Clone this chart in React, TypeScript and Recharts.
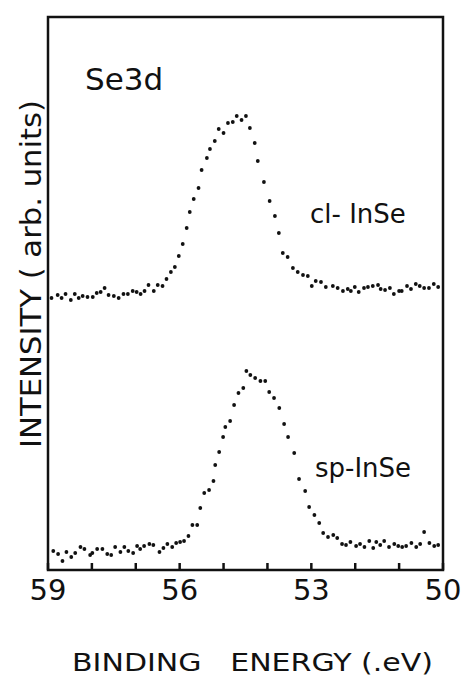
import { ScatterChart, Scatter, XAxis, YAxis, ReferenceArea } from 'recharts'

const font = '"DejaVu Sans", "Liberation Sans", sans-serif'

// binding energy (eV) and intensity (arb. units)
const clEnergy = [
  58.92, 58.78, 58.69, 58.6, 58.48, 58.39, 58.3, 58.21, 58.1, 57.98, 57.89, 57.8, 57.71, 57.62, 57.5,
  57.39, 57.28, 57.18, 57.07, 56.98, 56.89, 56.8, 56.71, 56.59, 56.5, 56.39, 56.3, 56.2, 56.11, 56.02,
  55.93, 55.84, 55.77, 55.68, 55.57, 55.5, 55.38, 55.31, 55.2, 55.11, 55.0, 54.9, 54.79, 54.7, 54.59,
  54.49, 54.4, 54.29, 54.22, 54.08, 53.95, 53.83, 53.74, 53.65, 53.54, 53.42, 53.31, 53.19, 53.08, 52.99,
  52.9, 52.78, 52.67, 52.51, 52.4, 52.28, 52.17, 52.1, 52.01, 51.92, 51.8, 51.71, 51.6, 51.48, 51.42,
  51.32, 51.21, 51.12, 51.0, 50.94, 50.82, 50.73, 50.62, 50.53, 50.43, 50.32, 50.21, 50.11,
]
const clIntensity = [
  272, 275, 272, 276, 270, 276, 272, 274, 273, 273, 277, 278, 282, 275, 274,
  272, 276, 276, 279, 278, 276, 279, 285, 279, 285, 284, 291, 298, 303, 314,
  326, 342, 358, 371, 382, 400, 412, 421, 429, 441, 437, 447, 448, 454, 450,
  454, 442, 427, 409, 388, 369, 354, 337, 317, 313, 302, 298, 295, 294, 284,
  289, 288, 283, 284, 282, 279, 281, 279, 283, 278, 282, 283, 284, 285, 281,
  280, 282, 276, 279, 279, 284, 281, 286, 284, 282, 282, 286, 283,
]

const spEnergy = [
  58.88, 58.77, 58.67, 58.58, 58.47, 58.38, 58.26, 58.17, 58.04, 57.99, 57.88, 57.76, 57.65, 57.56, 57.47,
  57.35, 57.26, 57.17, 57.06, 56.97, 56.9, 56.81, 56.69, 56.6, 56.46, 56.37, 56.28, 56.17, 56.08, 55.99,
  55.9, 55.8, 55.71, 55.6, 55.53, 55.44, 55.33, 55.23, 55.19, 55.1, 55.01, 54.96, 54.85, 54.76, 54.66,
  54.55, 54.48, 54.39, 54.28, 54.16, 54.05, 53.96, 53.85, 53.73, 53.62, 53.53, 53.39, 53.28, 53.14, 53.05,
  52.93, 52.82, 52.73, 52.62, 52.5, 52.41, 52.3, 52.21, 52.11, 51.98, 51.89, 51.79, 51.68, 51.59, 51.52,
  51.43, 51.34, 51.23, 51.11, 51.02, 50.93, 50.84, 50.72, 50.61, 50.52, 50.43, 50.31, 50.2, 50.11,
]
const spIntensity = [
  19, 16, 9, 18, 13, 17, 23, 21, 15, 17, 21, 21, 16, 15, 23,
  18, 23, 19, 17, 24, 21, 24, 26, 25, 18, 22, 26, 23, 27, 28,
  29, 34, 45, 45, 62, 77, 80, 89, 105, 118, 133, 143, 149, 165, 177,
  182, 199, 195, 192, 189, 189, 178, 172, 162, 146, 133, 117, 91, 79, 63,
  55, 47, 37, 33, 35, 32, 26, 25, 28, 24, 26, 23, 29, 22, 28,
  25, 29, 23, 26, 24, 23, 24, 27, 23, 26, 38, 27, 24, 25,
]

const energyTicks = [59, 58, 57, 56, 55, 54, 53, 52, 51, 50]
const labelledTicks = [59, 56, 53, 50]

const clData = clEnergy.map((e, i) => ({ e, v: clIntensity[i] }))
const spData = spEnergy.map((e, i) => ({ e, v: spIntensity[i] }))

const Dot = (props: any) => <circle cx={props.cx} cy={props.cy} r={1.9} fill="#111" />

const EnergyTick = ({ x, y, payload }: any) => (
  <g>
    <line x1={x} x2={x} y1={y} y2={y - 7} stroke="#111" strokeWidth={2.5} />
    {labelledTicks.includes(payload.value) && (
      <text x={x} y={y + 30} textAnchor="middle" fontSize={29} fontFamily={font} fill="#111">
        {payload.value}
      </text>
    )}
  </g>
)

export default function App() {
  return (
    <div style={{ position: 'absolute', left: 0, top: 0, width: 473, height: 678, background: '#fff' }}>
      <ScatterChart width={473} height={678} margin={{ top: 17, right: 30, left: 48, bottom: 78 }}>
        <XAxis
          type="number" dataKey="e" domain={[50, 59]} reversed ticks={energyTicks}
          axisLine={false} tickLine={false} tickSize={0} tickMargin={0} height={30}
          tick={<EnergyTick />} interval={0}
        />
        <YAxis type="number" dataKey="v" domain={[0, 553]} hide />
        <ReferenceArea x1={59} x2={50} y1={0} y2={553} fill="none" stroke="#111" strokeWidth={2.5} />
        <Scatter data={clData} shape={<Dot />} isAnimationActive={false} />
        <Scatter data={spData} shape={<Dot />} isAnimationActive={false} />
      </ScatterChart>
      <svg width={473} height={678} style={{ position: 'absolute', left: 0, top: 0, pointerEvents: 'none' }}>
        <g fontFamily={font} fill="#111">
          <text x={85} y={90} fontSize={31}>Se3d</text>
          <text x={310} y={223} fontSize={26}>cl- InSe</text>
          <text x={315} y={477} fontSize={26}>sp-InSe</text>
          <text x={72} y={671} fontSize={25} textLength={361} lengthAdjust="spacingAndGlyphs" style={{ whiteSpace: 'pre' }}>
            BINDING   ENERGY (.eV)
          </text>
          <text
            x={0} y={0} fontSize={28} textAnchor="middle" textLength={348} lengthAdjust="spacingAndGlyphs"
            transform="translate(41 274) rotate(-90)"
          >
            INTENSITY ( arb. units)
          </text>
        </g>
      </svg>
    </div>
  )
}
